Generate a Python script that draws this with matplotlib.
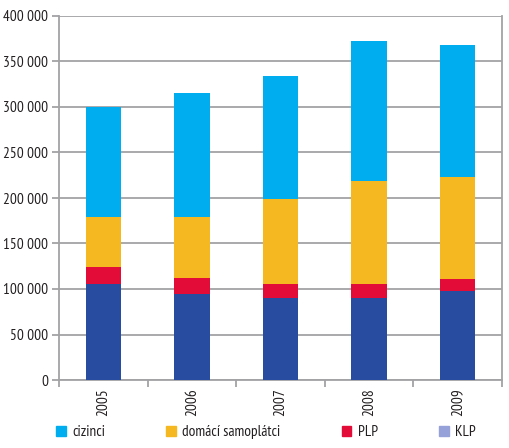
import numpy as np
import matplotlib.pyplot as plt
from matplotlib.patches import Patch
from matplotlib.ticker import FuncFormatter

# data
years = ['2005', '2006', '2007', '2008', '2009']
klp = [105000, 94500, 90600, 89900, 97600]
plp = [19000, 18000, 15400, 15400, 13600]
domaci = [55000, 67000, 92500, 113000, 111900]
cizinci = [121000, 136000, 135500, 154500, 145300]

col_cizinci = '#00AEEF'
col_domaci = '#F5B820'
col_plp = '#E30B38'
col_klp = '#284CA0'
grid_col = '#A3A3A6'

plt.rcParams['font.family'] = ['PT Sans Narrow', 'DejaVu Sans']
fig = plt.figure(figsize=(5.10, 4.48), dpi=100)
ax = fig.add_axes([59/510, 1-380/448, (502-59)/510, (380-16)/448])

x = np.arange(len(years))
w = 0.40
bottom = np.zeros(len(years))
for vals, c in [(klp, col_klp), (plp, col_plp), (domaci, col_domaci), (cizinci, col_cizinci)]:
    ax.bar(x, vals, w, bottom=bottom, color=c, linewidth=0, zorder=3)
    bottom += np.array(vals)

ax.set_xlim(-0.5, len(years) - 0.5)
ax.set_ylim(0, 400000)
ax.set_yticks(np.arange(0, 400001, 50000))
ax.yaxis.set_major_formatter(FuncFormatter(lambda v, p: '{:,}'.format(int(v)).replace(',', ' ')))
ax.grid(axis='y', color=grid_col, linewidth=1.3, zorder=0)

ax.set_xticks(x)
ax.set_xticklabels(years, rotation=90)
ax.set_xticks(np.arange(-0.5, len(years)), minor=True)
ax.tick_params(axis='x', which='major', length=0, pad=6, labelsize=11, colors='#231F20')
ax.tick_params(axis='x', which='minor', length=5, width=1.3, color=grid_col, direction='out')
ax.tick_params(axis='y', length=5, width=1.3, color=grid_col, labelsize=11, labelcolor='#231F20', pad=3)

for s in ['left', 'right', 'bottom']:
    ax.spines[s].set_color(grid_col)
    ax.spines[s].set_linewidth(1.3)
ax.spines['top'].set_visible(False)

handles = [Patch(color=col_cizinci), Patch(color=col_domaci), Patch(color=col_plp), Patch(color='#97A1D9')]
labels = ['cizinci', 'domácí samoplátci', 'PLP', 'KLP']
fig.legend(handles, labels, loc='center left', bbox_to_anchor=(56/510, 1-432/448), ncol=4,
           frameon=False, fontsize=11, handlelength=0.65, handleheight=0.65,
           handletextpad=0.4, columnspacing=4.0, borderaxespad=0, borderpad=0,
           labelcolor='#231F20')

fig.savefig('out.png', dpi=100)
